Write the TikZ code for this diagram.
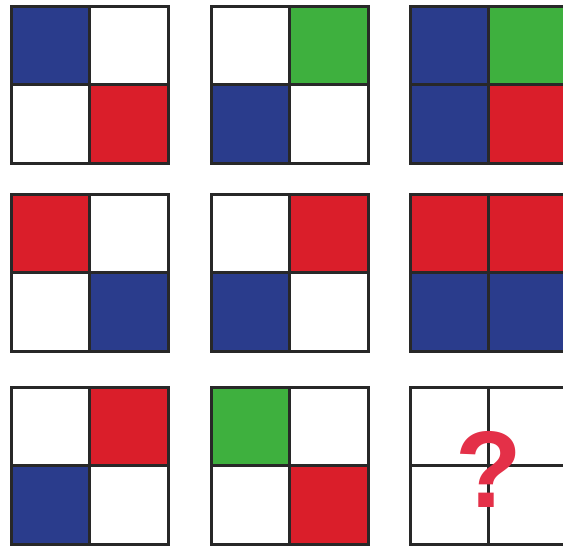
\documentclass[tikz,border=0pt]{standalone}
\usepackage{fontspec}
\setsansfont{Liberation Sans}
\usepackage{tikz}
\usetikzlibrary{positioning}

\definecolor{pblue}{RGB}{42,60,140}
\definecolor{pred}{RGB}{218,30,42}
\definecolor{pgreen}{RGB}{62,176,62}
\definecolor{qred}{RGB}{228,48,72}
\definecolor{frame}{RGB}{40,40,40}

\begin{document}
\begin{tikzpicture}[
      cell/.style={draw=frame, line width=0.03cm, minimum size=0.785cm,
                   inner sep=0pt, outer sep=0pt, anchor=north west},
      qm/.style={font=\sffamily\bfseries\fontsize{31}{31}\selectfont,
                 text=qred, inner sep=0pt}]

    \useasboundingbox (0,0) rectangle (5.63,-5.48);

    % Helper: one 2x2 panel, top left corner at (x,y)
    % #1=name, #2=x, #3=y, #4..#7=fill of TL, TR, BL, BR
    \newcommand{\panel}[7]{
        \node[cell, fill=#4] (#1-tl) at (#2, #3) {};
        \node[cell, fill=#5, right=0pt of #1-tl] (#1-tr) {};
        \node[cell, fill=#6, below=0pt of #1-tl] (#1-bl) {};
        \node[cell, fill=#7, right=0pt of #1-bl] (#1-br) {};
    }

    % === row 1 ===
    \panel{p1}{0.11}{-0.06}{pblue}{white}{white}{pred}
    \panel{p2}{2.11}{-0.06}{white}{pgreen}{pblue}{white}
    \panel{p3}{4.10}{-0.06}{pblue}{pgreen}{pblue}{pred}

    % === row 2 ===
    \panel{p4}{0.11}{-1.94}{pred}{white}{white}{pblue}
    \panel{p5}{2.11}{-1.94}{white}{pred}{pblue}{white}
    \panel{p6}{4.10}{-1.94}{pred}{pred}{pblue}{pblue}

    % === row 3 ===
    \panel{p7}{0.11}{-3.87}{white}{pred}{pblue}{white}
    \panel{p8}{2.11}{-3.87}{pgreen}{white}{white}{pred}
    \panel{p9}{4.10}{-3.87}{white}{white}{white}{white}

    % the missing one
    \node[qm] (qmark) at ([yshift=-0.04cm]p9-tl.south east) {?};

    \end{tikzpicture}
\end{document}
